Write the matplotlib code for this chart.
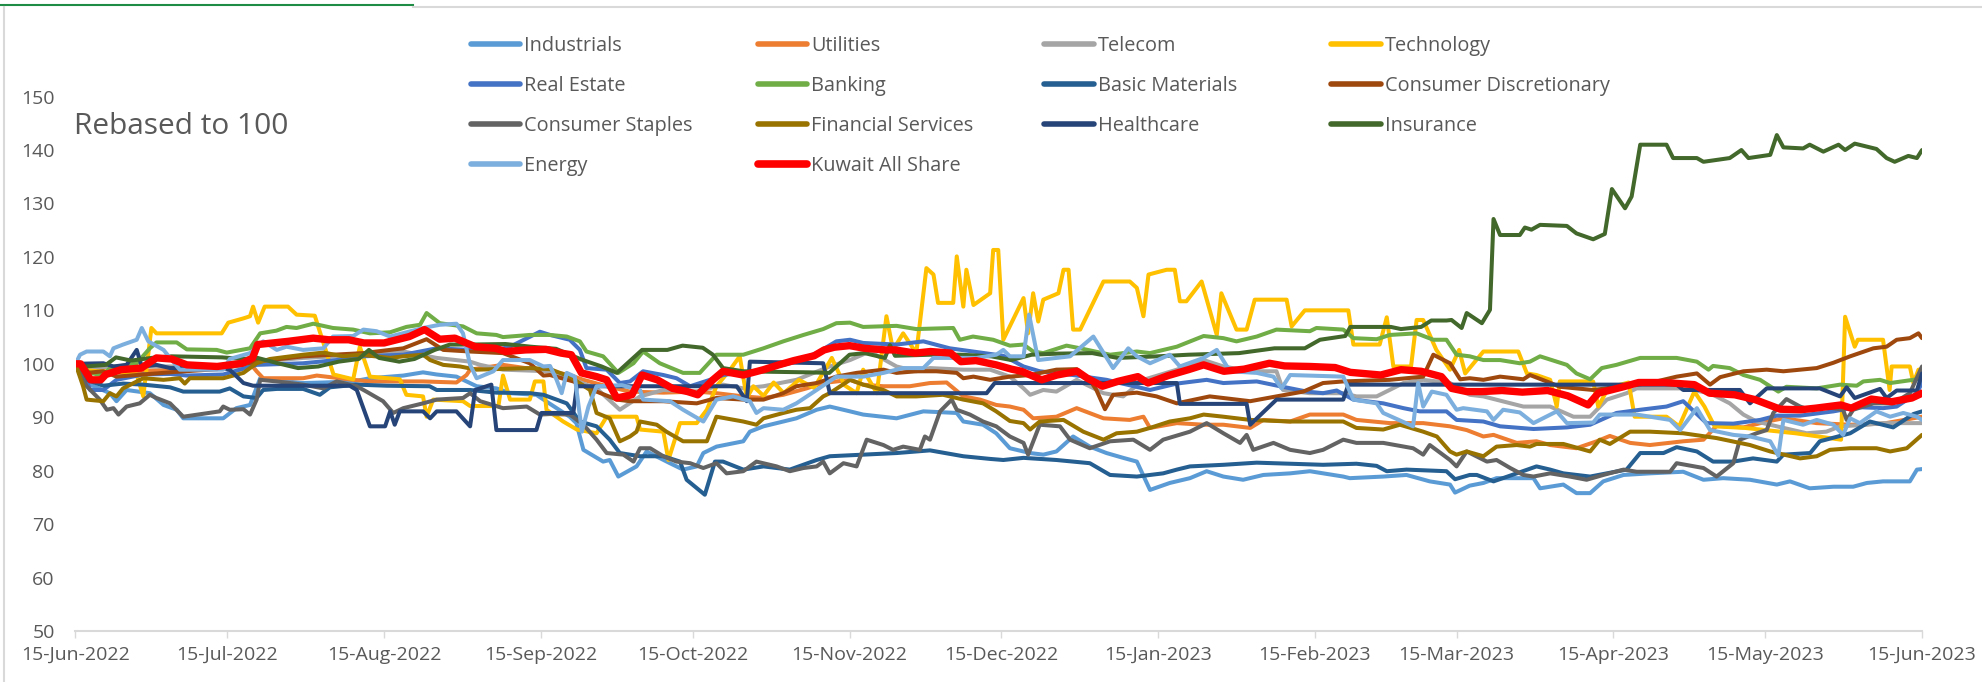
import numpy as np
import matplotlib
matplotlib.use("Agg")
import matplotlib.pyplot as plt
import matplotlib.dates as mdates
from matplotlib.lines import Line2D
from datetime import datetime

plt.rcParams['font.family'] = ['Open Sans', 'DejaVu Sans']

# day offsets from 15-Jun-2022, values rebased to 100
industrials_days = [0, 2.9, 6.8, 8.1, 10.1, 14.7, 17.4, 20, 21.3, 29.2, 31.8, 34.5, 36.5, 38.4, 41.7, 45, 49, 54.9, 58.2, 64.8, 68.7, 71.4, 75.3, 77.3, 79.3, 83.2, 85.9, 91.1, 93.8, 97.7, 99, 100.4, 104.3, 105.6, 107.3, 110.9, 112.9, 117.5, 120.1, 122.8, 124.1, 126.7, 132, 133.3, 136, 139.9, 142.5, 146.5, 149.1, 153.1, 155.7, 162.3, 167.6, 174.2, 175.5, 179.4, 182, 184.7, 188.7, 191.3, 193.9, 197.2, 200.5, 203.8, 207.1, 209.8, 212.4, 216.3, 220.3, 223.6, 226.9, 230.8, 234.8, 240.1, 244, 250.6, 251.9, 258.5, 263.1, 267.7, 271.7, 272.7, 275.6, 278.3, 280.9, 288.2, 289.5, 294.1, 296.7, 299.4, 302, 306, 311.2, 317.8, 321.8, 325.7, 331, 336.3, 338.9, 342.8, 347.5, 351.4, 354.1, 357.3, 362.6, 364, 365]
industrials_vals = [100, 96.1, 94.5, 93.0, 95.1, 94.5, 92.3, 91.4, 89.8, 89.8, 91.7, 92.3, 97.3, 97.0, 96.7, 96.4, 96.5, 96.7, 97.3, 97.8, 98.4, 98.0, 97.6, 96.7, 95.8, 95.4, 94.5, 94.2, 92.5, 90.1, 88.9, 83.9, 81.7, 82.0, 78.9, 80.8, 83.6, 81.4, 80.2, 80.8, 83.3, 84.5, 85.5, 87.3, 88.3, 89.2, 89.8, 91.4, 92.0, 91.1, 90.5, 89.8, 91.1, 90.8, 89.2, 88.6, 87.0, 84.2, 83.3, 83.0, 83.6, 86.4, 84.5, 83.3, 82.4, 81.7, 76.4, 77.7, 78.6, 79.9, 78.9, 78.3, 79.2, 79.5, 79.9, 78.9, 78.6, 78.9, 79.2, 78.0, 77.4, 75.9, 77.2, 77.7, 78.6, 78.6, 76.7, 77.4, 75.8, 75.8, 78.0, 79.2, 79.5, 79.8, 78.3, 78.6, 78.3, 77.4, 78.0, 76.7, 77.0, 77.0, 77.7, 78.0, 78.0, 80.2, 80.3]

utilities_days = [0, 1.5, 5.5, 12.1, 18.7, 29.2, 34.5, 35.8, 37.1, 45, 47.7, 54.9, 58.2, 68.7, 75.3, 77.3, 78, 84.5, 91.1, 93.8, 97.7, 100.4, 105, 109.6, 116.2, 122.8, 126.7, 132, 136, 139.9, 144.5, 147.8, 153.1, 155.7, 159.7, 164.9, 168.9, 172.2, 175.5, 178.8, 182, 184.7, 187.4, 189.3, 193.9, 197.9, 203.2, 208.4, 211.1, 212.4, 217.7, 223, 226.9, 232.2, 234.8, 240.1, 244, 250.6, 253.2, 259.8, 266.4, 271.7, 275, 278.3, 280.3, 284.9, 288.8, 291.5, 296.7, 300.7, 303.3, 307.3, 311.2, 317.8, 321.8, 324.4, 329.7, 334.3, 337.6, 344.2, 350.8, 357.3, 365]
utilities_vals = [100, 98.6, 98.3, 98.6, 98.9, 99.2, 100.1, 98.6, 97.3, 97.3, 97.8, 97.0, 96.7, 96.7, 96.5, 97.9, 98.9, 99.8, 98.9, 98.6, 97.9, 97.0, 95.8, 94.8, 94.6, 94.8, 94.5, 93.9, 93.6, 94.2, 95.4, 96.4, 97.0, 96.1, 95.8, 95.8, 96.4, 96.5, 93.9, 93.3, 92.3, 92.0, 91.4, 89.8, 90.1, 91.7, 89.8, 89.5, 90.1, 88.0, 88.9, 88.6, 88.6, 88.0, 89.5, 89.2, 90.5, 90.5, 89.5, 88.9, 88.9, 88.3, 87.6, 86.4, 86.7, 85.2, 85.5, 84.8, 84.2, 85.5, 86.5, 85.2, 84.8, 85.5, 85.8, 88.4, 88.1, 89.2, 89.8, 88.9, 88.6, 88.8, 90.1]

telecom_days = [0, 2.9, 6.8, 33.2, 36.5, 45, 51.6, 56.9, 64.8, 71.4, 78, 80, 84.5, 93.8, 103, 107.6, 111.6, 116.2, 122.8, 128, 132, 136, 142.5, 149.1, 153.1, 157, 162.3, 166.2, 168.9, 175.5, 180.8, 184.7, 187.4, 188.7, 191.3, 193.9, 197.9, 203.2, 207.1, 211.1, 217.7, 223, 226.9, 232.2, 237.4, 238.7, 244, 250.6, 253.2, 257.2, 262.5, 266.4, 271.7, 275.6, 278.3, 286.2, 291.5, 296.1, 299.4, 302.7, 306.6, 308.6, 317.8, 323.1, 327, 329.7, 332.3, 336.3, 342.2, 346.1, 348.8, 354.1, 357.3, 365]
telecom_vals = [100, 98.9, 99.5, 99.5, 100.4, 101.1, 101.4, 102.0, 102.3, 101.1, 100.4, 99.8, 98.9, 98.6, 95.4, 91.4, 93.9, 95.1, 94.8, 96.1, 95.4, 95.8, 97.0, 99.5, 100.7, 102.3, 99.5, 98.6, 99.2, 98.9, 98.9, 97.6, 95.4, 94.2, 95.1, 94.8, 97.0, 94.5, 93.9, 97.0, 98.9, 100.7, 99.5, 98.6, 98.6, 95.1, 94.5, 94.5, 93.9, 93.9, 96.4, 97.0, 96.4, 94.2, 93.9, 92.0, 92.0, 90.1, 90.1, 93.3, 94.5, 95.4, 95.4, 94.5, 92.6, 90.5, 89.2, 88.3, 87.0, 87.3, 88.3, 88.6, 88.9, 88.9]

technology_days = [0, 1.5, 4.2, 6.8, 12.1, 13.4, 15, 16, 28.9, 30.2, 33.2, 34.5, 35.1, 36.1, 37.4, 42, 43.7, 47.3, 48.3, 51, 54.9, 56.2, 58.2, 64.1, 65.4, 68.7, 69.4, 70.7, 76.6, 78, 83.6, 84.5, 85.9, 89.8, 90.8, 92.5, 93.1, 96.4, 99.1, 103, 105, 110.9, 111.6, 116.2, 117.2, 119.5, 122.8, 124.8, 126.7, 129.4, 131.3, 132.7, 134, 136, 138, 140, 143, 146, 149.5, 152, 154.4, 155.7, 158.4, 160.3, 161.6, 163.6, 166.2, 168.2, 169.6, 170.5, 173.5, 174.2, 175.5, 176.1, 177.5, 180.8, 181.4, 182.4, 183.4, 187.4, 188.3, 189.3, 190.3, 191.3, 194.3, 195.3, 196.3, 197.2, 198.6, 203.2, 208.4, 209.8, 211.1, 212.1, 215.7, 217.3, 218.3, 219.6, 222.6, 225.6, 226.5, 229.5, 231.5, 233.1, 239.4, 240.4, 243, 251.6, 252.6, 257.8, 259.2, 260.5, 264, 265.1, 266.4, 269, 271.7, 273.5, 274.7, 278.3, 285.2, 286.9, 288.8, 291.5, 292.8, 293.4, 300, 301, 303, 307, 308.2, 314.5, 317, 320, 322, 324, 330, 340, 349, 349.8, 351.7, 352.3, 357.3, 358.6, 359, 362.6, 363.3, 364.3, 365]
technology_vals = [100, 98.9, 98.6, 98.6, 98.0, 93.9, 106.7, 105.7, 105.7, 107.7, 108.5, 108.9, 110.7, 107.7, 110.7, 110.7, 109.2, 109.0, 106.0, 98.0, 97.1, 103.2, 97.6, 97.1, 94.2, 93.9, 90.1, 93.3, 93.0, 92.1, 92.1, 97.8, 93.3, 93.3, 96.7, 96.7, 91.4, 89.2, 87.7, 87.0, 90.1, 90.1, 87.7, 87.3, 82.0, 88.9, 88.9, 91.4, 95.8, 98.9, 101.4, 93.6, 95.8, 94.0, 96.5, 94.5, 97.0, 95.5, 101.1, 96.0, 94.5, 98.9, 94.5, 108.9, 102.6, 105.7, 102.0, 117.9, 116.7, 111.4, 111.4, 120.1, 110.7, 117.6, 111.0, 113.2, 121.3, 121.3, 104.5, 112.3, 105.7, 113.2, 107.9, 112.0, 113.2, 117.6, 117.6, 106.4, 106.4, 115.4, 115.4, 114.2, 108.9, 116.7, 117.6, 117.6, 111.7, 111.7, 115.4, 105.4, 113.2, 106.4, 106.4, 112.0, 112.0, 107.0, 110.0, 110.0, 103.6, 103.6, 108.7, 99.5, 99.5, 108.2, 108.2, 102.6, 98.9, 102.6, 98.2, 102.3, 102.3, 98.2, 97.9, 97.0, 92.0, 96.7, 96.7, 92.0, 95.5, 96.5, 90.1, 90.1, 88.3, 94.8, 92.0, 88.3, 88.0, 87.0, 85.8, 108.8, 103.2, 104.5, 104.5, 95.1, 99.5, 99.5, 96.4, 98.9, 98.9]

real_estate_days = [0, 1.5, 2.9, 5.5, 8.1, 13.4, 18.7, 22, 29.2, 35.8, 45, 51.6, 56.9, 64.8, 71.4, 78, 83.2, 85.9, 91.8, 93.8, 97.7, 99.7, 101, 105, 107.6, 109.6, 112.2, 116.2, 118.8, 121.5, 125.4, 128, 132, 136, 141.2, 146.5, 150.4, 153.1, 155.7, 162.3, 167.6, 172.8, 177.4, 183.4, 187.4, 190.6, 197.2, 203.8, 212.4, 217.7, 223.6, 226.9, 233.5, 238.1, 243.4, 246.6, 249.3, 252.6, 258.5, 262.5, 265.7, 271, 273, 278.3, 281.6, 288.2, 294.8, 299.4, 304.6, 309.3, 314.5, 317.8, 322.4, 327.7, 333, 336.3, 340.9, 347.5, 352.1, 357.3, 360, 364, 365]
real_estate_vals = [100, 98.6, 95.1, 95.1, 97.0, 98.0, 98.1, 97.8, 98.0, 99.8, 100.1, 100.7, 101.4, 101.7, 102.9, 102.6, 102.6, 103.2, 106.0, 105.4, 104.5, 102.6, 99.2, 98.9, 96.4, 96.7, 98.6, 97.9, 97.3, 95.8, 97.0, 97.9, 98.4, 98.9, 100.1, 102.0, 104.2, 104.5, 103.9, 103.6, 104.2, 102.9, 102.3, 101.5, 99.5, 98.6, 97.9, 97.0, 95.1, 96.3, 97.0, 96.4, 96.7, 95.8, 94.8, 94.5, 95.0, 93.3, 92.6, 91.7, 91.1, 91.1, 89.5, 89.2, 88.3, 87.8, 88.1, 88.6, 90.8, 91.4, 92.0, 93.0, 88.9, 88.8, 89.5, 90.3, 90.3, 91.1, 91.9, 91.7, 92.0, 94.5, 96.5]

banking_days = [0, 2.9, 5.5, 6.8, 12.1, 14.7, 16, 20, 22, 27.9, 29.9, 34.5, 36.5, 39.7, 41.7, 43.7, 47, 50.9, 54.9, 58.2, 62.2, 65.4, 68.1, 69.4, 72, 76.6, 79.3, 83.2, 84.5, 89.8, 93.8, 97.1, 99.7, 101, 104.3, 107.3, 110.3, 112.2, 115.5, 120.1, 123.4, 126.7, 132, 136, 139.9, 143.9, 147.8, 150.4, 153.1, 155.7, 162.3, 166.2, 173.5, 174.8, 177.4, 181.4, 184.7, 187.4, 189.3, 191.3, 195.9, 198.6, 204.5, 209.8, 212.4, 217.7, 223, 226.9, 229.5, 233.5, 237.4, 244, 245.3, 250.6, 252.6, 257.2, 259.8, 265.1, 268.4, 271, 273, 275.6, 278.3, 281.6, 285.5, 287.5, 289.5, 292.8, 294.8, 296.7, 299.4, 301.7, 304.6, 309.3, 316.5, 320.5, 322.8, 323.7, 327, 329.7, 333, 336.6, 338.2, 344.2, 348.8, 352.1, 353.4, 356.7, 358.7, 364, 365]
banking_vals = [100, 98.3, 97.8, 99.2, 100.1, 102.9, 104.0, 104.0, 102.7, 102.6, 102.1, 102.9, 105.7, 106.2, 106.9, 106.7, 107.5, 106.7, 106.4, 105.7, 105.9, 106.9, 107.3, 109.5, 107.6, 107.0, 105.7, 105.4, 105.0, 105.4, 105.4, 105.1, 104.2, 102.3, 101.4, 98.3, 100.1, 102.3, 100.1, 98.3, 98.3, 101.7, 101.7, 102.9, 104.2, 105.4, 106.5, 107.6, 107.7, 106.9, 107.1, 106.5, 106.7, 104.5, 105.1, 104.5, 103.4, 103.6, 102.3, 102.0, 103.4, 102.9, 101.7, 102.3, 102.0, 103.2, 105.2, 104.8, 104.2, 105.1, 106.4, 106.1, 106.7, 106.4, 104.8, 104.6, 105.4, 105.7, 104.5, 104.5, 101.7, 101.4, 100.7, 100.7, 100.1, 100.4, 101.4, 100.4, 99.8, 98.2, 97.1, 99.2, 99.8, 101.1, 101.1, 100.4, 98.9, 99.6, 99.2, 97.9, 97.0, 94.8, 95.7, 95.4, 96.1, 95.9, 96.7, 97.0, 96.4, 97.1, 97.5]

basic_materials_days = [0, 2.2, 5.5, 9.4, 13.4, 18.7, 21.3, 28.5, 30.5, 33.2, 35.8, 37.1, 39.8, 45, 48.3, 50.3, 55.6, 61.5, 70, 71.4, 78, 83.2, 89.8, 92.5, 97.1, 99.7, 103, 105.6, 107.6, 111.6, 116.2, 119.5, 120.8, 124.4, 126.4, 128, 132, 136, 141.2, 146.5, 149.1, 155.7, 162.3, 168.9, 175.5, 180.8, 183.4, 187.4, 193.9, 200.5, 204.5, 209.8, 215, 217.7, 220.3, 226.9, 233.5, 240.1, 246.6, 253.2, 257.2, 259.2, 263.1, 271, 272.7, 275.6, 277, 280.3, 284.9, 288.8, 291.5, 294.1, 299.4, 302.7, 306.6, 309.3, 313.9, 316.5, 320.5, 323.7, 327.7, 331.6, 336.3, 337.6, 342.9, 344.8, 350.8, 354.7, 359.3, 363.3, 365]
basic_materials_vals = [100, 97.0, 95.9, 96.3, 96.1, 95.6, 94.8, 94.8, 95.4, 93.9, 93.6, 95.1, 95.3, 95.3, 94.2, 95.6, 96.1, 95.9, 95.8, 95.1, 95.1, 94.6, 94.5, 94.2, 92.6, 89.2, 88.3, 85.8, 83.3, 82.7, 82.7, 81.7, 78.3, 75.5, 81.7, 81.7, 80.2, 80.8, 80.2, 82.0, 82.7, 83.0, 83.3, 83.8, 82.7, 82.2, 82.0, 82.4, 82.0, 81.4, 79.2, 78.9, 79.5, 80.2, 80.8, 81.1, 81.5, 81.3, 81.1, 81.3, 80.9, 79.9, 80.2, 79.9, 78.4, 79.2, 79.2, 78.0, 79.5, 80.8, 80.2, 79.5, 78.9, 79.5, 80.2, 83.3, 83.3, 84.4, 83.6, 81.7, 81.7, 82.3, 81.7, 83.0, 83.3, 85.5, 87.0, 89.2, 88.1, 90.6, 91.1]

cons_disc_days = [0, 2.2, 5.5, 8.1, 13.4, 20, 28, 35.8, 45, 56.9, 64.8, 69.4, 72.7, 78, 84.5, 89.8, 92.5, 93.8, 98.4, 103, 107, 109.6, 116.2, 122.8, 126.7, 132, 136, 139.9, 142.5, 146.5, 150.4, 154.4, 159.7, 162.3, 166.2, 170.2, 174.2, 175.5, 177.5, 180.8, 184.7, 188.7, 193.9, 197.9, 200.5, 201.8, 203.5, 205.1, 209.8, 213.7, 217.7, 224.2, 232.2, 237.4, 242.7, 246.6, 250.6, 259.8, 266.4, 268.4, 271.7, 273.7, 275.6, 278.3, 281.6, 286.2, 287.5, 290.8, 293.4, 300, 311.2, 316.5, 320.5, 323.1, 325.1, 329.7, 334.3, 337.6, 344.2, 347.5, 350.8, 355.4, 358, 360, 362.6, 364.3, 365]
cons_disc_vals = [100, 98.3, 98.6, 97.6, 98.0, 98.5, 99.0, 100.4, 101.4, 102.0, 102.9, 104.6, 102.6, 102.3, 102.0, 100.1, 97.8, 97.9, 96.7, 94.8, 93.3, 93.0, 93.0, 92.6, 93.6, 93.3, 93.3, 94.5, 95.8, 96.4, 97.6, 98.3, 98.9, 98.3, 98.6, 98.6, 98.3, 97.3, 97.6, 97.0, 97.6, 97.9, 98.9, 99.0, 97.0, 95.1, 91.5, 94.2, 94.6, 93.9, 92.6, 93.9, 93.0, 93.9, 94.8, 96.4, 96.7, 97.0, 97.6, 101.7, 100.1, 97.1, 97.3, 97.0, 97.6, 97.1, 97.9, 96.7, 95.7, 95.1, 96.4, 97.6, 98.2, 96.1, 97.5, 98.6, 98.9, 98.6, 99.2, 100.2, 101.4, 102.9, 103.2, 104.5, 104.8, 105.7, 104.8]

cons_staples_days = [0, 2.2, 4.8, 6.2, 7.5, 8.5, 10.1, 12.7, 14.7, 16, 18.7, 21.3, 28.5, 29.2, 30.5, 33.2, 34.5, 35.8, 36.5, 39.8, 45, 49, 51.6, 55.6, 57.5, 60.8, 62.8, 64.8, 68.7, 71.4, 76.6, 78, 80, 84.5, 89.2, 91.8, 93.8, 97.7, 100.4, 103, 105, 108.3, 110.3, 111.6, 113.6, 116.2, 118.8, 121.5, 124.1, 126.7, 128.7, 132, 134.6, 138.6, 141.2, 143.9, 146.5, 147.8, 149.1, 151.8, 154.4, 156.4, 159.7, 161.6, 163.6, 166.9, 167.9, 168.9, 170.9, 173.2, 174.2, 176.8, 179.4, 182, 184.7, 187.4, 188.3, 190.6, 194.6, 196.6, 200.5, 204.5, 209.1, 212.4, 215, 220.3, 223.6, 226.9, 230.2, 231.5, 232.8, 236.8, 240.1, 244, 246.6, 250.6, 253.2, 258.5, 264.4, 266.4, 267.7, 271.7, 273, 275, 279, 280.9, 283.6, 286.2, 288.2, 291.5, 295.4, 298.7, 302, 306, 308.6, 315.2, 316.5, 321.8, 324.4, 327.7, 329, 332.3, 334.3, 335.6, 338.2, 340.9, 342.8, 345.5, 349.4, 350.1, 351.4, 355.4, 359.3, 362.6, 365]
cons_staples_vals = [100, 95.8, 93.3, 91.4, 91.7, 90.5, 92.0, 92.6, 94.2, 93.6, 92.6, 90.1, 91.1, 92.0, 91.4, 91.5, 90.5, 93.3, 97.0, 96.7, 96.1, 95.4, 96.7, 95.8, 94.8, 93.0, 90.8, 91.7, 92.6, 93.3, 93.6, 94.5, 93.0, 91.7, 92.0, 90.5, 90.6, 90.5, 88.6, 85.8, 83.3, 83.0, 81.7, 84.2, 84.2, 82.7, 81.7, 81.4, 80.5, 81.4, 79.5, 79.9, 81.7, 80.8, 79.9, 80.5, 80.8, 81.7, 79.5, 81.4, 80.8, 85.8, 84.8, 83.9, 84.5, 83.9, 86.4, 85.8, 91.1, 93.3, 91.4, 90.5, 89.2, 88.3, 86.4, 85.2, 83.0, 88.6, 88.3, 85.8, 84.2, 85.5, 85.8, 83.9, 85.8, 87.3, 88.9, 87.0, 85.2, 86.7, 83.9, 85.2, 83.9, 83.3, 83.9, 85.8, 85.2, 85.2, 84.2, 83.0, 84.8, 82.0, 80.8, 83.6, 81.7, 82.0, 80.5, 79.2, 78.9, 79.5, 78.9, 78.3, 79.2, 80.2, 79.8, 79.8, 81.4, 80.5, 78.9, 81.4, 85.8, 87.0, 87.6, 90.8, 93.4, 92.0, 91.4, 92.0, 91.4, 89.5, 91.4, 92.6, 92.6, 94.5, 99.5]

fin_services_days = [0, 1.5, 2.2, 5.5, 6.8, 8.1, 9.4, 13.4, 17.4, 20.6, 21.6, 22.6, 29.2, 33.2, 35.8, 38.4, 45, 49, 52.9, 56.2, 62.2, 64.8, 68.7, 70.1, 72.7, 76, 79.3, 89.8, 93.8, 97.7, 101.7, 103, 105.6, 107.6, 109.6, 110.9, 111.6, 114.9, 116.8, 120.1, 124.8, 126.7, 132, 134.6, 136, 139.9, 142.5, 145.2, 147.8, 149.1, 153.1, 155.7, 159.7, 162.3, 166.2, 171.5, 175.5, 179.4, 182, 184.7, 187.4, 188.7, 190.6, 195.3, 199.2, 203.2, 205.8, 209.8, 212.4, 216.3, 220.3, 223, 226.9, 232.2, 240.1, 250.6, 253.2, 258.5, 261.8, 266.4, 269.1, 271.7, 273, 275, 278.3, 280.9, 284.9, 287.5, 288.8, 294.1, 299.4, 301.3, 303.3, 307.3, 311.2, 317.8, 324.4, 331, 335, 340.9, 344.2, 346.8, 350.8, 356, 358.7, 362, 365]
fin_services_vals = [100, 95.8, 93.3, 93.0, 94.5, 93.9, 95.4, 97.3, 97.0, 97.3, 96.3, 97.3, 97.3, 98.3, 100.1, 100.9, 101.7, 102.1, 101.4, 101.7, 101.1, 101.4, 101.7, 100.7, 99.8, 99.5, 98.9, 99.2, 99.0, 97.6, 95.1, 90.8, 89.8, 85.5, 86.4, 87.3, 89.2, 88.6, 87.3, 85.5, 85.5, 90.1, 89.2, 88.6, 89.8, 90.8, 91.4, 91.7, 93.9, 94.5, 97.0, 96.1, 95.1, 93.9, 93.9, 94.2, 93.3, 92.6, 91.1, 89.3, 88.9, 87.7, 89.2, 89.5, 87.3, 85.8, 87.0, 87.3, 88.0, 89.2, 89.8, 90.5, 90.1, 89.5, 89.2, 89.2, 88.0, 87.7, 88.6, 87.3, 86.4, 83.6, 83.0, 83.6, 82.7, 84.5, 84.8, 84.5, 85.0, 85.0, 83.6, 85.8, 85.0, 87.3, 87.3, 87.0, 86.1, 84.8, 83.6, 82.3, 82.7, 83.9, 84.2, 84.2, 83.6, 84.2, 86.7]

healthcare_days = [0, 5.5, 7.5, 10.1, 12.1, 13.1, 16, 18.7, 29.2, 30.5, 33.2, 35.1, 54.2, 55.6, 58.2, 61.2, 62.2, 63.1, 64.1, 68.7, 70.1, 71.4, 75.3, 78, 79, 82.2, 83.2, 91.1, 92.1, 98.4, 99.1, 130.7, 132.7, 133.3, 147.8, 149.1, 180.1, 181.7, 217.7, 218.3, 231.5, 232.2, 237.4, 250.6, 251.6, 316.5, 317.8, 329, 331, 334.3, 344.8, 348.8, 350.1, 351.7, 356.7, 358, 360, 364, 365]
healthcare_vals = [100, 100.1, 99.5, 99.8, 102.6, 99.5, 99.8, 99.2, 99.2, 98.9, 96.4, 95.9, 95.9, 95.1, 88.3, 88.3, 91.1, 88.6, 91.1, 91.1, 89.8, 91.1, 91.1, 88.3, 95.1, 96.1, 87.6, 87.6, 90.8, 90.8, 95.8, 95.8, 93.0, 100.4, 100.1, 94.5, 94.5, 96.4, 96.4, 92.5, 92.5, 88.6, 93.3, 93.3, 96.1, 96.1, 95.1, 95.1, 92.6, 95.4, 95.4, 93.9, 95.6, 93.6, 95.3, 93.6, 95.0, 95.0, 98.2]

insurance_days = [0, 2, 6, 8, 11, 15, 19, 29, 33, 36, 40, 44, 48, 52, 56, 58, 60, 64, 67, 71, 74, 78, 85, 90, 95, 100, 104, 107, 112, 117, 120, 124, 126, 128, 132, 138, 145, 149, 153, 156, 160, 161, 162, 169, 175, 181, 185, 189, 194, 201, 206, 214, 220, 230, 237, 243, 246, 251, 252, 260, 262, 266, 268, 271, 272, 274, 275, 278, 279.6, 280.3, 281.6, 285.5, 286.5, 287.8, 289.5, 294.8, 296.7, 300, 302.3, 303.7, 306.3, 307.6, 309.3, 314.5, 315.8, 320.5, 321.8, 327, 329.3, 330.7, 335, 336.3, 337.6, 341.5, 342.8, 345.5, 348.5, 349.8, 351.7, 356, 358, 359.6, 362.3, 364, 365]
insurance_vals = [100, 99.5, 99.8, 101.2, 100.6, 101.1, 101.4, 101.2, 100.9, 101.1, 100.1, 99.2, 99.5, 100.4, 100.9, 102.6, 101.1, 100.4, 100.9, 102.6, 103.6, 103.6, 103.7, 103.2, 102.8, 100.8, 99.5, 98.3, 102.6, 102.6, 103.4, 103.0, 101.7, 99.2, 98.6, 98.5, 98.4, 98.3, 101.7, 102.0, 101.1, 103.5, 101.5, 101.7, 101.7, 101.4, 100.7, 101.7, 101.9, 102.0, 101.1, 101.4, 101.7, 102.0, 102.9, 102.9, 104.5, 105.2, 106.9, 106.9, 106.5, 106.9, 108.1, 108.1, 108.2, 106.7, 109.5, 107.6, 110.1, 127.1, 124.1, 124.1, 125.5, 125.1, 126.0, 125.8, 124.4, 123.3, 124.3, 132.7, 129.1, 131.3, 141.0, 141.0, 138.5, 138.5, 137.8, 138.5, 140.0, 138.5, 139.1, 142.8, 140.5, 140.3, 141.0, 139.7, 141.0, 140.0, 141.2, 140.2, 138.5, 137.8, 138.9, 138.5, 140.0]

energy_days = [0, 0.9, 2.2, 5.5, 6.8, 7.5, 9.4, 12.1, 13.1, 14.4, 17.4, 20.6, 29.2, 30.5, 34.5, 37.1, 39.8, 41.7, 45, 49, 50.9, 54.9, 56.9, 59.5, 62.2, 68.7, 72, 75.3, 76.6, 78, 79.3, 82.6, 84.5, 89.8, 92.5, 93.8, 95.1, 96.1, 97.1, 98.7, 100.1, 101.4, 103, 108, 111.6, 112.2, 117.5, 120.1, 124.1, 126.7, 130, 133.3, 134.6, 136, 139.9, 142.5, 146.5, 150.4, 155.7, 159.7, 163.6, 167.6, 169.6, 178.1, 182, 183.4, 184.7, 187.4, 188.5, 190.3, 196.6, 201.2, 205.1, 208.1, 209.8, 212.4, 216.3, 218.3, 223, 225.6, 228.2, 233.5, 236.8, 238.4, 240.1, 250.6, 252.6, 257.2, 258.5, 264.4, 265.4, 266.4, 268.1, 271, 273, 274.3, 279, 280.3, 282.2, 285.5, 288.2, 292.8, 294.8, 300, 301.3, 308.6, 315.2, 317.2, 320.5, 323.1, 327.7, 331, 335, 336.6, 337.6, 341.5, 344.2, 347.5, 349.4, 350.8, 352.7, 356, 358.7, 361.3, 364, 365]
energy_vals = [100, 101.7, 102.3, 102.3, 101.4, 102.9, 103.6, 104.5, 106.7, 104.2, 102.6, 98.9, 98.9, 100.9, 102.0, 104.2, 102.6, 103.2, 102.6, 102.9, 105.1, 105.2, 106.4, 106.1, 105.1, 106.7, 107.3, 107.5, 105.7, 99.8, 97.3, 98.6, 100.7, 100.7, 99.5, 99.6, 97.0, 94.5, 98.3, 97.6, 87.3, 92.0, 95.8, 96.0, 95.1, 93.3, 93.0, 91.4, 89.2, 93.3, 93.9, 93.0, 90.8, 91.7, 91.4, 92.6, 95.1, 97.6, 97.6, 98.3, 99.2, 99.2, 101.1, 101.1, 101.7, 102.6, 101.4, 101.4, 109.2, 100.7, 101.4, 105.1, 99.2, 102.9, 101.4, 100.1, 101.7, 99.5, 101.1, 102.6, 98.6, 98.3, 97.6, 95.4, 97.9, 97.6, 93.3, 92.6, 90.8, 88.3, 96.4, 92.0, 94.8, 94.2, 91.4, 91.7, 91.1, 89.5, 91.4, 90.9, 88.9, 91.1, 88.9, 89.0, 90.5, 90.5, 89.5, 87.6, 91.7, 87.6, 86.7, 86.4, 85.5, 82.8, 89.5, 88.6, 89.5, 88.6, 86.7, 89.8, 88.9, 91.1, 90.1, 90.8, 90.1, 89.5]

kuwait_days = [0, 1, 3, 5, 6, 9, 13, 16, 19, 22, 28, 33, 35, 36, 42, 47, 50, 54, 57, 61, 66, 69, 72, 75, 79, 83, 85, 89, 93, 96, 98, 100, 103, 105, 107, 110, 112, 115, 118, 121, 123, 126, 128, 132, 136, 139, 142, 146, 148, 150, 153, 156, 160, 162, 166, 169, 173, 175, 178, 182, 185, 187, 191, 194, 198, 200, 203, 206, 210, 212, 216, 220, 223, 227, 231, 236, 239, 244, 249, 252, 258, 262, 266, 270, 272, 275, 278, 282, 286, 291, 295, 299, 301, 306, 309, 314, 320, 323, 328, 332, 337, 341, 344, 349, 351, 355, 359, 363, 365]
kuwait_vals = [100, 100, 97.0, 97.0, 98.0, 98.9, 99.2, 101.1, 100.9, 99.8, 99.5, 100.1, 101.1, 103.6, 104.2, 104.8, 104.5, 104.5, 103.9, 103.9, 105.1, 106.4, 104.6, 104.8, 103.2, 102.9, 102.3, 102.6, 102.7, 102.0, 101.7, 98.3, 97.6, 97.0, 93.6, 94.2, 97.9, 97.0, 95.4, 94.8, 94.2, 97.0, 98.6, 97.9, 98.9, 99.8, 100.6, 101.5, 102.6, 103.1, 103.4, 102.9, 102.6, 102.6, 102.0, 102.3, 102.0, 100.4, 100.6, 99.8, 99.0, 98.6, 97.0, 97.9, 98.6, 97.3, 95.8, 96.7, 97.6, 96.4, 97.8, 98.9, 99.8, 98.6, 99.0, 100.1, 99.6, 99.5, 99.3, 98.4, 97.9, 98.9, 98.6, 97.6, 95.4, 94.8, 94.8, 95.0, 94.7, 95.0, 94.0, 92.3, 94.5, 95.7, 96.5, 96.5, 96.1, 94.5, 94.2, 93.3, 91.5, 91.4, 91.7, 92.3, 91.7, 93.4, 92.9, 93.6, 94.5]

names = ['Industrials', 'Utilities', 'Telecom', 'Technology', 'Real Estate', 'Banking',
         'Basic Materials', 'Consumer Discretionary', 'Consumer Staples', 'Financial Services',
         'Healthcare', 'Insurance', 'Energy', 'Kuwait All Share']
series = [(industrials_days, industrials_vals), (utilities_days, utilities_vals),
          (telecom_days, telecom_vals), (technology_days, technology_vals),
          (real_estate_days, real_estate_vals), (banking_days, banking_vals),
          (basic_materials_days, basic_materials_vals), (cons_disc_days, cons_disc_vals),
          (cons_staples_days, cons_staples_vals), (fin_services_days, fin_services_vals),
          (healthcare_days, healthcare_vals), (insurance_days, insurance_vals),
          (energy_days, energy_vals), (kuwait_days, kuwait_vals)]
colors = ['#5B9BD5', '#ED7D31', '#A5A5A5', '#FFC000', '#4472C4', '#70AD47', '#255E91',
          '#9E480E', '#636363', '#997300', '#264478', '#43682B', '#7CAFDD', '#FF0000']

W, H = 1982, 682
fig = plt.figure(figsize=(W / 100, H / 100), dpi=100)
ax = fig.add_axes([75.5 / W, 1 - 631 / H, 1846.5 / W, (631 - 96.6) / H])

base = mdates.date2num(datetime(2022, 6, 15))
handles = []
for (d, v), name, c in zip(series, names, colors):
    lw = 5.3 if name == 'Kuwait All Share' else 2.9
    h, = ax.plot(base + np.array(d), v, color=c, lw=lw, label=name,
                 solid_joinstyle='round', solid_capstyle='round')
    handles.append(h)

ax.set_xlim(base, base + 365)
ax.set_ylim(50, 150)
ax.set_yticks(np.arange(50, 151, 10))
ax.xaxis.set_major_locator(mdates.MonthLocator(bymonthday=15))
ax.xaxis.set_major_formatter(mdates.DateFormatter('%d-%b-%Y'))

for s in ['top', 'right', 'left']:
    ax.spines[s].set_visible(False)
ax.spines['bottom'].set_color('#D9D9D9')
ax.spines['bottom'].set_linewidth(1.5)
ax.tick_params(axis='x', length=5, width=1, color='#D9D9D9', labelcolor='#595959',
               labelsize=14, pad=6)
ax.tick_params(axis='y', length=0, labelcolor='#595959', labelsize=14, pad=15)

ax.text(73.7 / W, 1 - 126 / H, 'Rebased to 100', transform=fig.transFigure,
        fontsize=21.5, color='#595959', va='center', ha='left')

# legend laid out row by row, 4 columns
col_x = [470.6, 757.5, 1044, 1331]
for c in range(4):
    hs = handles[c::4]
    leg = fig.legend(hs, [h.get_label() for h in hs], loc='upper left',
                     bbox_to_anchor=(col_x[c] / W, 1 - 36 / H), frameon=False,
                     fontsize=14.3, labelcolor='#595959', handlelength=2.5,
                     handletextpad=0.2, borderpad=0, borderaxespad=0,
                     labelspacing=1.0)
    for lh, h in zip(leg.get_lines(), hs):
        lh.set_linewidth(5.5 if h.get_label() == 'Kuwait All Share' else 4)

# chart frame edges
fig.add_artist(Line2D([0, 413 / W], [1 - 5 / H] * 2, color='#1E8C45', lw=1.5))
fig.add_artist(Line2D([413 / W, 1], [1 - 7 / H] * 2, color='#D9D9D9', lw=1.5))
fig.add_artist(Line2D([3.5 / W] * 2, [0, 1 - 7 / H], color='#D9D9D9', lw=1.5))

fig.savefig('out.png', dpi=100)
